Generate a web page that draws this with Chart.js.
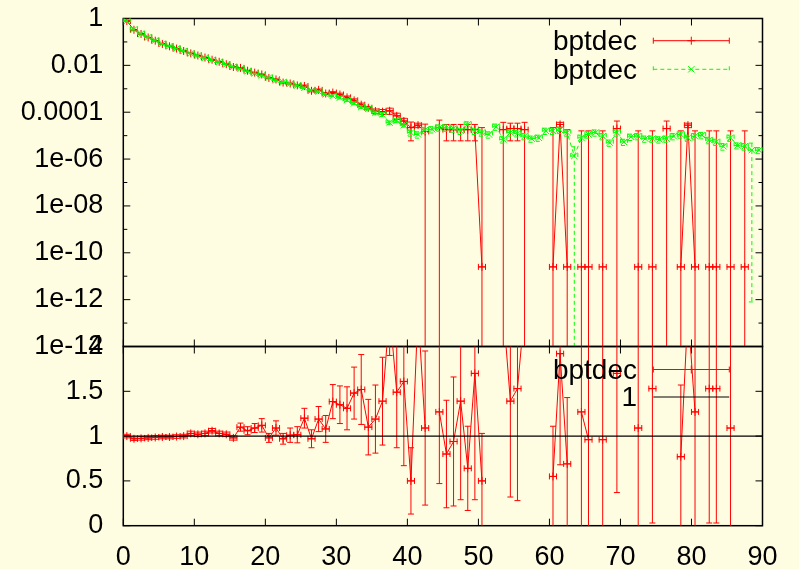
<!DOCTYPE html>
<html><head><meta charset="utf-8">
<script src="https://cdn.jsdelivr.net/npm/chart.js@4.4.1/dist/chart.umd.min.js"></script>
<style>
html,body{margin:0;padding:0;background:#fffde1;}
#wrap{position:relative;width:799px;height:569px;background:#fffde1;overflow:hidden}
canvas{position:absolute;left:0}
</style></head><body>
<div id="wrap">
<canvas id="ctop" width="799" height="362" style="top:0"></canvas>
<canvas id="cbot" width="799" height="239" style="top:330px"></canvas>
</div>
<script>
// ---------------- data ----------------
const binCenters = [0.5,1.5,2.5,3.5,4.5,5.5,6.5,7.5,8.5,9.5,10.5,11.5,12.5,13.5,14.5,15.5,16.5,17.5,18.5,19.5,
20.5,21.5,22.5,23.5,24.5,25.5,26.5,27.5,28.5,29.5,30.5,31.5,32.5,33.5,34.5,35.5,36.5,37.5,38.5,39.5,
40.5,41.5,42.5,43.5,44.5,45.5,46.5,47.5,48.5,49.5,50.5,51.5,52.5,53.5,54.5,55.5,56.5,57.5,58.5,59.5,
60.5,61.5,62.5,63.5,64.5,65.5,66.5,67.5,68.5,69.5,70.5,71.5,72.5,73.5,74.5,75.5,76.5,77.5,78.5,79.5,
80.5,81.5,82.5,83.5,84.5,85.5,86.5,87.5,88.5,89.5];
const binHalfWidth = 0.5;

const redTop = [0.78,0.33,0.218,0.155,0.113,0.082,0.065,0.052,0.041,0.0326,
0.0263,0.0216,0.0174,0.0142,0.0112,0.0085,0.0078,0.0059,0.0049,0.0041,
0.0029,0.0025,0.00184,0.00168,0.0014,0.00132,0.00082,0.0009,0.00063,0.00069,
0.00057,0.00043,0.00032,0.00021,0.000155,0.000112,0.000105,0.000115,0.00007,0.000042,
0.000022,0.000028,0.000015,null,0.000022,0.000018,0.000018,0.000018,0.000018,0.000018,
2.5e-11,null,null,0.000018,0.00002,0.00002,0.000018,null,null,null,
2.5e-11,0.00003,2.5e-11,null,2.5e-11,2.5e-11,null,2.5e-11,null,0.00002,
null,null,2.5e-11,null,2.5e-11,null,0.00002,null,2.5e-11,0.000028,
2.5e-11,null,2.5e-11,2.5e-11,null,2.5e-11,null,2.5e-11,null,null];
const redTopErr = [0.012,0.005,0.0033,0.0023,0.0017,0.0012,0.001,0.0008,0.0006,0.0005,
0.0008,0.00065,0.0005,0.00043,0.00034,0.00026,0.00023,0.00018,0.00015,0.00012,
0.00015,0.00013,0.00009,0.000084,0.00007,0.00012,0.000074,0.00008,0.000057,0.000062,
0.00008,0.00006,0.00005,0.000035,0.000022,0.000025,0.000025,0.000034,0.000021,0.000013,
0.000016,0.000006,0.000016,null,0.000024,0.000012,0.000012,0.000012,0.000012,0.000012,
0.000022,null,null,0.000019,0.000014,0.000014,0.000019,null,null,null,
0.000022,0.000007,0.000018,null,0.000016,0.000016,null,0.000016,null,0.000022,
null,null,0.000016,null,0.000016,null,0.000022,null,0.000016,0.000006,
0.000016,null,0.000016,0.000016,null,0.000016,null,0.000016,null,null];

const greenTop = [0.78,0.34,0.224,0.158,0.115,0.083,0.066,0.052,0.041,0.032,
0.026,0.021,0.0166,0.0138,0.011,0.0087,0.0071,0.0056,0.0045,0.0037,
0.0030,0.0023,0.0019,0.00166,0.00138,0.0011,0.00085,0.00076,0.00058,0.0005,
0.00042,0.00033,0.00024,0.000166,0.000141,0.000095,0.000081,0.000036,0.000044,0.000028,
0.0000135,0.0000112,0.0000174,0.0000186,0.000022,0.000022,0.00002,0.000016,0.00003,0.000016,
0.0000135,0.0000112,0.000024,0.0000069,0.0000135,0.0000126,0.0000095,0.0000074,0.0000081,0.000016,
0.000016,0.0000174,0.0000135,0.00000135,0.0000081,0.0000112,0.0000135,0.0000095,0.000005,0.0000135,
0.0000054,0.0000089,0.0000095,0.0000074,0.0000074,0.0000069,0.0000074,0.0000095,0.0000112,0.0000081,
0.0000095,0.0000105,0.0000065,0.0000054,0.0000035,0.0000081,0.0000038,0.0000035,0.0000024,0.0000024];
const greenTopErr = [0.012,0.005,0.0034,0.0024,0.0017,0.0012,0.001,0.0008,0.0006,0.0005,
0.00065,0.0005,0.0004,0.00035,0.00028,0.00022,0.00018,0.00014,0.00011,0.00009,
0.00012,0.00009,0.000076,0.000066,0.000055,0.000077,0.00006,0.000053,0.00004,0.000035,
0.00005,0.00004,0.000029,0.00002,0.000017,0.000017,0.000015,0.0000065,0.000008,0.000005,
0.000004,0.0000034,0.0000052,0.0000056,0.0000066,0.0000066,0.000006,0.0000048,0.000009,0.0000048,
0.000004,0.0000034,0.0000072,0.0000021,0.000004,0.0000038,0.0000029,0.0000022,0.0000024,0.0000048,
0.0000048,0.0000052,0.000004,0.000002,0.0000024,0.0000034,0.000004,0.0000029,0.0000015,0.000004,
0.0000016,0.0000027,0.0000029,0.0000022,0.0000022,0.0000021,0.0000022,0.0000029,0.0000034,0.0000024,
0.0000029,0.0000032,0.000002,0.0000016,0.0000011,0.0000024,0.0000011,0.0000011,0.0000023999992,0.0000007];

const ratio = [1.00,0.97,0.975,0.98,0.985,0.99,0.99,0.995,1.00,1.03,
1.02,1.03,1.06,1.03,1.02,0.98,1.10,1.06,1.09,1.12,
0.98,1.09,0.97,1.01,1.015,1.20,0.97,1.19,1.08,1.385,
1.35,1.31,1.48,1.52,1.10,1.19,1.39,2.4,1.49,1.61,
0.50,2.4,1.09,null,1.27,0.80,0.94,1.39,0.64,1.70,
0.50,null,null,2.4,1.39,1.53,2.4,null,null,null,
0.55,1.92,0.69,null,1.27,0.96,null,0.96,null,1.70,
null,null,1.09,null,1.53,null,null,null,0.77,2.4,
1.27,null,1.53,1.53,null,1.09,null,null,null,null];
const ratioErr = [0.02,0.02,0.02,0.02,0.02,0.02,0.02,0.02,0.02,0.025,
0.025,0.025,0.025,0.025,0.025,0.025,0.045,0.045,0.05,0.075,
0.05,0.08,0.06,0.08,0.09,0.11,0.10,0.14,0.15,0.19,
0.21,0.24,0.29,0.39,0.31,0.38,0.49,0.5,0.62,0.94,
0.37,0.3,0.86,null,0.8,0.6,0.72,1.1,0.47,1.41,
0.53,null,null,0.3,1.07,1.25,0.3,null,null,null,
0.56,1.24,0.74,null,1.5,1.5,null,1.5,null,1.33,
null,null,1.5,null,1.5,null,null,null,0.8,0.3,
1.5,null,1.5,1.5,null,1.5,null,null,null,null];

const unityX = [0, 90];
const unityY = [1, 1];

const xTicks = [0,10,20,30,40,50,60,70,80,90];
const xTickLabels = ['0','10','20','30','40','50','60','70','80','90'];
const topMajor = [1,1e-2,1e-4,1e-6,1e-8,1e-10,1e-12,1e-14];
const topLabels = ['1','0.01','0.0001','1e-06','1e-08','1e-10','1e-12','1e-14'];
const topMinor = [1e-1,1e-3,1e-5,1e-7,1e-9,1e-11,1e-13];
const botTicks = [0,0.5,1,1.5,2];
const botLabels = ['0','0.5','1','1.5','2'];
const seriesNames = ['bptdec','bptdec','bptdec','1'];

// ---------------- helpers ----------------
const FAMILY = '"Liberation Sans", Arial, sans-serif';
const KEYFONT = '28px ' + FAMILY;
const tickFont = {family:FAMILY, size:27, lineHeight:1};
const RED = '#ff0000', GREEN = '#00ff00';
const PLOT_LEFT = 123.3, PLOT_RIGHT = 762.5;
const CAP = 3;

function pts(xv, yv){ return xv.map((x,i)=>({x:x, y:yv[i]})); }

function drawMarker(ctx, style, x, y, r){
  ctx.beginPath();
  if (style === 'cross'){
    ctx.moveTo(x-r,y); ctx.lineTo(x+r,y); ctx.moveTo(x,y-r); ctx.lineTo(x,y+r);
  } else if (style === 'crossRot'){
    const d = r*Math.SQRT1_2;
    ctx.moveTo(x-d,y-d); ctx.lineTo(x+d,y+d); ctx.moveTo(x-d,y+d); ctx.lineTo(x+d,y-d);
  }
  ctx.stroke();
}

const errPlugin = {
  id:'gerr',
  afterDatasetDraw(chart, args){
    const ds = chart.data.datasets[args.index];
    if (!ds.errY) return;
    const {ctx, chartArea:a, scales:{x:xs, y:ys}} = chart;
    const isLog = ys.type === 'logarithmic';
    ctx.save();
    ctx.beginPath(); ctx.rect(a.left, a.top, a.right-a.left, a.bottom-a.top); ctx.clip();
    ctx.strokeStyle = ds.borderColor; ctx.lineWidth = 1;
    ctx.setLineDash(ds.borderDash || []);
    ds.data.forEach((p,i)=>{
      const e = ds.errY[i];
      if (p.y == null || e == null) return;
      const px = xs.getPixelForValue(p.x);
      const py = ys.getPixelForValue(p.y);
      const hi = p.y + e, lo = p.y - e;
      const pyHi = ys.getPixelForValue(hi);
      const loClipped = isLog && lo <= 0;
      const pyLo = loClipped ? a.bottom + 20 : ys.getPixelForValue(lo);
      ctx.beginPath();
      ctx.moveTo(px, pyHi); ctx.lineTo(px, pyLo);
      ctx.moveTo(px-CAP, pyHi); ctx.lineTo(px+CAP, pyHi);
      if (!loClipped){ ctx.moveTo(px-CAP, pyLo); ctx.lineTo(px+CAP, pyLo); }
      const xl = xs.getPixelForValue(p.x - ds.errX), xr = xs.getPixelForValue(p.x + ds.errX);
      ctx.moveTo(xl, py); ctx.lineTo(xr, py);
      ctx.moveTo(xl, py-CAP); ctx.lineTo(xl, py+CAP);
      ctx.moveTo(xr, py-CAP); ctx.lineTo(xr, py+CAP);
      ctx.stroke();
    });
    ctx.restore();
  }
};

const framePlugin = {
  id:'gframe',
  beforeDatasetsDraw(chart, args, o){
    const {ctx, chartArea:a, scales:{x:xs, y:ys}} = chart;
    ctx.save();
    ctx.strokeStyle = '#000'; ctx.lineWidth = 1;
    ctx.beginPath();
    o.xTicks.forEach(v=>{
      const p = xs.getPixelForValue(v);
      ctx.moveTo(p, a.bottom); ctx.lineTo(p, a.bottom - o.major);
      ctx.moveTo(p, a.top); ctx.lineTo(p, a.top + o.major);
    });
    o.yMajor.forEach(v=>{
      const p = ys.getPixelForValue(v);
      ctx.moveTo(a.left, p); ctx.lineTo(a.left + o.major, p);
      ctx.moveTo(a.right, p); ctx.lineTo(a.right - o.major, p);
    });
    (o.yMinor||[]).forEach(v=>{
      const p = ys.getPixelForValue(v);
      ctx.moveTo(a.left, p); ctx.lineTo(a.left + o.minor, p);
      ctx.moveTo(a.right, p); ctx.lineTo(a.right - o.minor, p);
    });
    ctx.stroke();
    ctx.lineWidth = 1.5;
    ctx.strokeRect(a.left, a.top, a.right-a.left, a.bottom-a.top);
    ctx.restore();
  }
};

const keyPlugin = {
  id:'gkey',
  afterDatasetsDraw(chart, args, o){
    const ctx = chart.ctx;
    ctx.save();
    ctx.font = KEYFONT; ctx.textAlign = 'right'; ctx.textBaseline = 'middle';
    o.items.forEach((dsIndex, i)=>{
      const ds = chart.data.datasets[dsIndex];
      const y = o.y0 + i*o.dy;
      ctx.fillStyle = '#000';
      ctx.fillText(ds.label, o.textRight, y + 1.5);
      ctx.strokeStyle = ds.borderColor; ctx.lineWidth = 1;
      ctx.setLineDash(ds.borderDash || []);
      ctx.beginPath(); ctx.moveTo(o.x1, y); ctx.lineTo(o.x2, y);
      if (ds.errY){
        ctx.moveTo(o.x1, y-CAP); ctx.lineTo(o.x1, y+CAP);
        ctx.moveTo(o.x2, y-CAP); ctx.lineTo(o.x2, y+CAP);
      }
      ctx.stroke();
      ctx.setLineDash([]);
      if (ds.pointRadius > 0) drawMarker(ctx, ds.pointStyle, (o.x1+o.x2)/2, y, ds.pointRadius);
    });
    ctx.restore();
  }
};

function fixWidth(w){ return function(scale){ scale.width = w; }; }
// invisible tick marks only used to push labels away from the frame
const hiddenGrid = (len)=>({display:true, drawOnChartArea:false, drawTicks:true, tickLength:len, color:'rgba(0,0,0,0)'});

// ---------------- top chart ----------------
new Chart(document.getElementById('ctop'), {
  type:'line',
  data:{ datasets:[
    { label:seriesNames[0], data:pts(binCenters, redTop), errY:redTopErr, errX:binHalfWidth,
      borderColor:RED, backgroundColor:RED, borderWidth:1, pointStyle:'cross', pointRadius:4,
      pointBorderColor:RED, pointBorderWidth:1, pointHoverRadius:0, spanGaps:false, order:2 },
    { label:seriesNames[1], data:pts(binCenters, greenTop), errY:greenTopErr, errX:binHalfWidth,
      borderColor:GREEN, backgroundColor:GREEN, borderWidth:1, borderDash:[4,3], pointStyle:'crossRot', pointRadius:4.5,
      pointBorderColor:GREEN, pointBorderWidth:1, pointHoverRadius:0, spanGaps:false, order:1 }
  ]},
  options:{
    responsive:false, animation:false, events:[],
    layout:{ padding:{ left:0, top:18.5, right:799-PLOT_RIGHT, bottom:15.5 } },
    scales:{
      x:{ type:'linear', min:0, max:90, display:false },
      y:{ type:'logarithmic', min:1e-14, max:1, afterFit:fixWidth(PLOT_LEFT),
          afterBuildTicks:(s)=>{ s.ticks = topMajor.map(v=>({value:v})); },
          grid:hiddenGrid(20), border:{display:false},
          ticks:{ font:tickFont, color:'#000', padding:0, autoSkip:false,
                  callback:(v)=>{ const i = topMajor.indexOf(v); return i>=0 ? topLabels[i] : ''; } } }
    },
    plugins:{ legend:{display:false}, tooltip:{enabled:false},
      gframe:{ xTicks:xTicks, yMajor:topMajor, yMinor:topMinor, major:7, minor:4 },
      gkey:{ items:[0,1], y0:40.7, dy:28.6, textRight:637, x1:653.3, x2:729.3 } }
  },
  plugins:[framePlugin, errPlugin, keyPlugin]
});

// ---------------- bottom chart ----------------
new Chart(document.getElementById('cbot'), {
  type:'line',
  data:{ datasets:[
    { label:seriesNames[2], data:pts(binCenters, ratio), errY:ratioErr, errX:binHalfWidth,
      borderColor:RED, backgroundColor:RED, borderWidth:1, pointStyle:'cross', pointRadius:4,
      pointBorderColor:RED, pointBorderWidth:1, pointHoverRadius:0, spanGaps:false, order:2 },
    { label:seriesNames[3], data:pts(unityX, unityY), borderColor:'#000', borderWidth:1.2,
      pointRadius:0, pointHoverRadius:0, order:1 }
  ]},
  options:{
    responsive:false, animation:false, events:[],
    layout:{ padding:{ left:0, top:16.5, right:799-PLOT_RIGHT, bottom:0 } },
    scales:{
      x:{ type:'linear', min:0, max:90, afterFit:(s)=>{ s.height = 43.3; },
          afterBuildTicks:(s)=>{ s.ticks = xTicks.map(v=>({value:v})); },
          grid:hiddenGrid(18), border:{display:false},
          ticks:{ font:tickFont, color:'#000', padding:0, autoSkip:false, maxRotation:0,
                  callback:(v)=>{ const i = xTicks.indexOf(v); return i>=0 ? xTickLabels[i] : ''; } } },
      y:{ type:'linear', min:0, max:2, afterFit:fixWidth(PLOT_LEFT),
          afterBuildTicks:(s)=>{ s.ticks = botTicks.map(v=>({value:v})); },
          grid:hiddenGrid(20), border:{display:false},
          ticks:{ font:tickFont, color:'#000', padding:0, autoSkip:false,
                  callback:(v)=>{ const i = botTicks.indexOf(v); return i>=0 ? botLabels[i] : ''; } } }
    },
    plugins:{ legend:{display:false}, tooltip:{enabled:false},
      gframe:{ xTicks:xTicks, yMajor:botTicks, major:7, minor:4 },
      gkey:{ items:[0,1], y0:39.5, dy:27.5, textRight:637, x1:653.3, x2:729.3 } }
  },
  plugins:[framePlugin, errPlugin, keyPlugin]
});
</script>
</body></html>
